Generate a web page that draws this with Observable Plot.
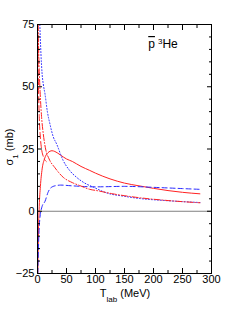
<!DOCTYPE html>
<html>
<head>
<meta charset="utf-8">
<script src="https://cdn.jsdelivr.net/npm/d3@7"></script>
<script src="https://cdn.jsdelivr.net/npm/@observablehq/plot@0.6"></script>
<style>
  body { margin: 0; background: white; }
</style>
</head>
<body>
<div id="chart"></div>
<script>
// Tick values
const xMajor = [0, 50, 100, 150, 200, 250, 300];
const xMinor = [25, 75, 125, 175, 225, 275];
const yMajor = [-25, 0, 25, 50, 75];
const yMinor = [-20, -15, -10, -5, 5, 10, 15, 20, 30, 35, 40, 45, 55, 60, 65, 70];

// Series (T_lab in MeV, sigma_1 in mb)
const redSolidT = [0.5, 1.5, 3, 5, 8, 12, 18, 25, 30, 40, 50, 60, 75, 90, 100, 125, 150, 175, 200, 225, 250, 280];
const redSolidV = [-25, -10, 2, 10, 17, 21, 23.5, 24.3, 24, 22.5, 21, 20, 18, 16.4, 15.3, 13, 11.3, 10.2, 9.2, 8.3, 7.6, 7.0];

const blueDashT = [0.5, 2, 4, 8, 13, 18, 22, 30, 40, 60, 100, 150, 200, 250, 280];
const blueDashV = [-25, -12, -3, 2, 4, 7.5, 9.2, 10.2, 10.5, 10.2, 9.8, 10, 9.6, 9.1, 8.8];

const blueDotT = [4, 6, 8, 10, 13, 17, 21.5, 27, 33, 44, 55, 67, 80, 96, 120, 150, 177, 220, 280];
const blueDotV = [75, 63, 55, 51, 47, 40, 35, 30, 27, 20.5, 16.5, 13.7, 11.5, 9.7, 7.3, 6, 5.1, 4.3, 3.5];

const redDashDotT = [1, 2.5, 4.5, 7, 10, 14, 20, 30, 44, 60, 73, 90, 102, 130, 177, 220, 280];
const redDashDotV = [75, 60, 48, 38, 31, 25, 21, 17.5, 13.7, 11.5, 10.3, 8.8, 8.3, 7, 5.4, 4.4, 3.4];

const redDashT = [0.3, 1, 2, 3, 4.5, 7, 10, 15];
const redDashV = [75, 60, 47, 38, 31, 25, 22, 20];

const zip = (T, V) => T.map((t, i) => ({t, v: V[i]}));

const font = "'Liberation Sans Narrow', 'Liberation Sans', Arial, sans-serif";

const lineOpts = (stroke, dash) => ({x: "t", y: "v", stroke, strokeWidth: 1, strokeDasharray: dash, curve: "monotone-x", clip: true});

const svg = Plot.plot({
  width: 249,
  height: 323,
  marginLeft: 37,
  marginRight: 38,
  marginTop: 24,
  marginBottom: 50,
  x: {domain: [0, 300]},
  y: {domain: [-25, 75]},
  style: {fontFamily: font, fontSize: "11px", background: "white", color: "black"},
  marks: [
    Plot.ruleY([0], {stroke: "#808080", strokeWidth: 1}),
    Plot.line(zip(redSolidT, redSolidV), lineOpts("#ff2222", null)),
    Plot.line(zip(blueDashT, blueDashV), lineOpts("#2a2aff", "5,3")),
    Plot.line(zip(blueDotT, blueDotV), lineOpts("#2a2aff", "1,2")),
    Plot.line(zip(redDashDotT, redDashDotV), lineOpts("#ff2222", "6,2,1,2")),
    Plot.line(zip(redDashT, redDashV), lineOpts("#ff2222", "6,3")),
    Plot.frame({stroke: "black", strokeWidth: 1}),
    Plot.axisX(xMajor, {anchor: "bottom", tickSize: -5, tickPadding: 7, label: null}),
    Plot.axisX(xMinor, {anchor: "bottom", tickSize: -3, tickFormat: () => "", label: null}),
    Plot.axisX(xMajor, {anchor: "top", tickSize: -5, tickFormat: () => "", label: null}),
    Plot.axisX(xMinor, {anchor: "top", tickSize: -3, tickFormat: () => "", label: null}),
    Plot.axisY(yMajor, {anchor: "left", tickSize: -5, tickPadding: 8, label: null}),
    Plot.axisY(yMinor, {anchor: "left", tickSize: -3, tickFormat: () => "", label: null}),
    Plot.axisY(yMajor, {anchor: "right", tickSize: -5, tickFormat: () => "", label: null}),
    Plot.axisY(yMinor, {anchor: "right", tickSize: -3, tickFormat: () => "", label: null})
  ]
});

const s = d3.select(svg);
// y-axis label
const yl = s.append("text")
  .attr("transform", "translate(13,147) rotate(-90)")
  .attr("text-anchor", "middle")
  .attr("font-family", font)
  .attr("font-size", "11px")
  .attr("fill", "black");
yl.append("tspan").text("σ");
yl.append("tspan").attr("baseline-shift", "sub").attr("font-size", "8px").text("1");
yl.append("tspan").text(" (mb)");

// x-axis label
const xl = s.append("text")
  .attr("x", 125)
  .attr("y", 297)
  .attr("text-anchor", "middle")
  .attr("font-family", font)
  .attr("font-size", "11px")
  .attr("fill", "black");
xl.append("tspan").text("T");
xl.append("tspan").attr("baseline-shift", "sub").attr("font-size", "8px").text("lab");
xl.append("tspan").text(" (MeV)");

// reaction label
const tl = s.append("text")
  .attr("x", 163)
  .attr("y", 48)
  .attr("font-family", font)
  .attr("font-size", "12px")
  .attr("fill", "black");
tl.append("tspan").attr("text-decoration", "overline").text("p");
tl.append("tspan").attr("baseline-shift", "super").attr("font-size", "8px").attr("dx", 3).text("3");
tl.append("tspan").text("He");

document.getElementById("chart").appendChild(svg);
</script>
</body>
</html>
